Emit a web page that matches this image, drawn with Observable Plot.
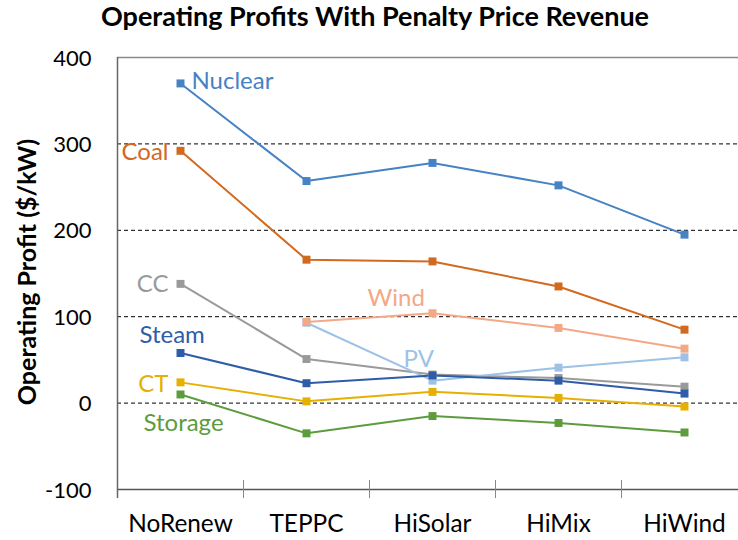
<!DOCTYPE html>
<html>
<head>
<meta charset="utf-8">
<script src="https://cdn.jsdelivr.net/npm/d3@7"></script>
<script src="https://cdn.jsdelivr.net/npm/@observablehq/plot@0.6"></script>
<style>
  html, body { margin: 0; padding: 0; background: #fff; overflow: hidden; }
  #chart { position: relative; width: 738px; height: 540px; }
  #title { position: absolute; left: 0; top: 2px; width: 750px; text-align: center; line-height: 27px;
           font-family: Lato, "Open Sans", sans-serif; font-weight: bold; font-size: 27px; color: #000; z-index: 2; }
  svg { overflow: hidden; }
</style>
</head>
<body>
<div id="chart">
  <div id="title">Operating Profits With Penalty Price Revenue</div>
</div>
<script>
const scenarios = ["NoRenew", "TEPPC", "HiSolar", "HiMix", "HiWind"];
const yTicks = [-100, 0, 100, 200, 300, 400];
const gridValues = [0, 100, 200, 300];

const nuclear = [370, 257, 278, 252, 195];
const coal    = [292, 166, 164, 135, 85];
const cc      = [138, 51, 33, 29, 19];
const pv      = [null, 93, 26, 41, 53];
const wind    = [null, 94, 104, 87, 63];
const steam   = [58, 23, 32, 26, 11];
const ct      = [24, 2, 13, 6, -4];
const storage = [10, -35, -15, -23, -34];

const seriesNames  = ["Nuclear", "Coal", "CC", "PV", "Wind", "Steam", "CT", "Storage"];
const seriesValues = [nuclear, coal, cc, pv, wind, steam, ct, storage];
const seriesColors = ["#4682c4", "#d2691f", "#9a9a9a", "#9dc2e6", "#f3a886", "#2f5ca8", "#e6b000", "#5d9c3d"];
const labelScenario = ["NoRenew", "NoRenew", "NoRenew", "HiSolar", "HiSolar", "NoRenew", "NoRenew", "NoRenew"];
const labelValue    = [373, 290, 137, 51, 121, 78, 22, -23];
const labelDx       = [11, -12, -12, -29, -65, -41, -12, -37];
const labelAnchor   = ["start", "end", "end", "start", "start", "start", "end", "start"];

const rows = [];
seriesNames.forEach((name, i) => {
  seriesValues[i].forEach((v, j) => {
    if (v !== null) rows.push({series: name, scenario: scenarios[j], value: v});
  });
});

const font = "Lato, 'Open Sans', sans-serif";

const labelMarks = seriesNames.map((name, i) =>
  Plot.text([{series: name, scenario: labelScenario[i], value: labelValue[i]}], {
    x: "scenario", y: "value", text: "series", fill: "series",
    fontSize: 24, dx: labelDx[i], textAnchor: labelAnchor[i]
  })
);

const plot = Plot.plot({
  width: 738,
  height: 540,
  marginTop: 57, marginBottom: 51, marginLeft: 117, marginRight: 0,
  style: {fontFamily: font, background: "#fff"},
  x: {type: "band", domain: scenarios, range: [117, 747], padding: 0, axis: null},
  y: {type: "linear", domain: [-100, 400], range: [489, 57], axis: null},
  color: {domain: seriesNames, range: seriesColors},
  marks: [
    Plot.ruleY(gridValues, {stroke: "#000", strokeWidth: 1, strokeDasharray: "4,3"}),
    Plot.ruleY([400], {stroke: "#8a8a8a", strokeWidth: 1.3}),
    Plot.ruleY([-100], {stroke: "#555", strokeWidth: 1.3}),
    Plot.ruleX(scenarios.slice(1), {x: d => d, y1: -110.5, y2: -89.5, dx: -63, stroke: "#888", strokeWidth: 1}),
    Plot.ruleX(scenarios.slice(0, 1), {x: d => d, y1: -110.5, y2: 400, dx: -63, stroke: "#666", strokeWidth: 1.5}),
    Plot.text(yTicks, {y: d => d, text: d => String(d), frameAnchor: "left", textAnchor: "end", dx: -26, dy: 1, fontSize: 22, fill: "#000"}),
    Plot.text(scenarios, {x: d => d, y: () => -100, text: d => d, dy: 35, fontSize: 24.4, fill: "#000"}),
    Plot.line(rows, {x: "scenario", y: "value", z: "series", stroke: "series", strokeWidth: 2}),
    Plot.dot(rows, {x: "scenario", y: "value", fill: "series", symbol: "square", r: 4.5}),
    ...labelMarks
  ]
});

const chart = document.getElementById("chart");
plot.style.position = "absolute";
plot.style.left = "0";
plot.style.top = "0";
chart.appendChild(plot);
chart.appendChild(document.getElementById("title"));

d3.select(plot).append("text")
  .attr("transform", "translate(27,272) rotate(-90)")
  .attr("text-anchor", "middle")
  .attr("dy", "0.35em")
  .attr("font-family", font)
  .attr("font-weight", "bold")
  .attr("font-size", 25)
  .text("Operating Profit ($/kW)");
</script>
</body>
</html>
